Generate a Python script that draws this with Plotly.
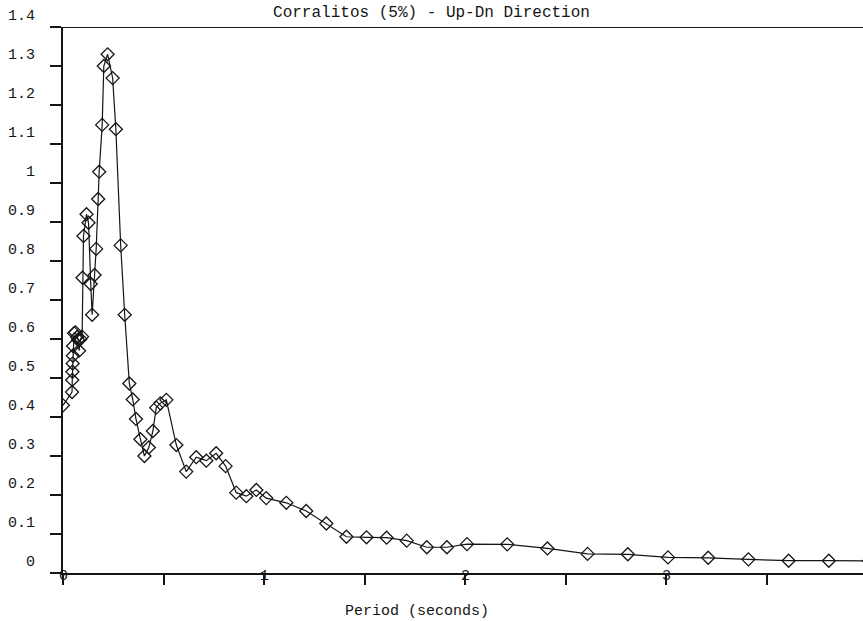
import plotly.graph_objects as go

# Period (s) and spectral acceleration values
period = [0.00, 0.045, 0.046, 0.047, 0.048, 0.049, 0.050, 0.055, 0.062, 0.070,
          0.075, 0.080, 0.087, 0.095, 0.097, 0.102, 0.117, 0.127, 0.138, 0.145,
          0.157, 0.165, 0.175, 0.180, 0.195, 0.203, 0.222, 0.247, 0.263, 0.287,
          0.307, 0.330, 0.347, 0.363, 0.385, 0.405, 0.427, 0.447, 0.464, 0.484,
          0.514, 0.564, 0.613, 0.663, 0.713, 0.762, 0.809, 0.862, 0.912, 0.962,
          1.011, 1.111, 1.21, 1.31, 1.41, 1.51, 1.61, 1.71, 1.81, 1.91,
          2.01, 2.21, 2.41, 2.61, 2.81, 3.01, 3.21, 3.41, 3.61, 3.81, 4.01]
accel = [0.430, 0.464, 0.495, 0.516, 0.537, 0.557, 0.582, 0.615, 0.617, 0.605,
         0.598, 0.570, 0.600, 0.606, 0.757, 0.864, 0.920, 0.898, 0.741, 0.662,
         0.764, 0.831, 0.959, 1.029, 1.149, 1.300, 1.330, 1.269, 1.138, 0.840,
         0.662, 0.486, 0.445, 0.395, 0.343, 0.300, 0.322, 0.364, 0.424, 0.435,
         0.444, 0.328, 0.260, 0.297, 0.288, 0.307, 0.274, 0.206, 0.197, 0.213,
         0.192, 0.180, 0.159, 0.127, 0.093, 0.0915, 0.0906, 0.083, 0.066, 0.066,
         0.074, 0.0735, 0.063, 0.049, 0.048, 0.040, 0.039, 0.035, 0.0315, 0.0315, 0.031]

y_ticks = [0, 0.1, 0.2, 0.3, 0.4, 0.5, 0.6, 0.7, 0.8, 0.9, 1.0, 1.1, 1.2, 1.3, 1.4]
y_tick_labels = ["0", "0.1", "0.2", "0.3", "0.4", "0.5", "0.6", "0.7", "0.8", "0.9",
                 "1", "1.1", "1.2", "1.3", "1.4"]
x_ticks = [0, 0.5, 1, 1.5, 2, 2.5, 3, 3.5]
x_label_vals = [0, 1, 2, 3]
x_label_text = ["0", "1", "2", "3"]

INK = "#151515"
FONT = "Liberation Mono, DejaVu Sans Mono, monospace"

fig = go.Figure()
fig.add_trace(go.Scatter(
    x=period, y=accel, mode="lines+markers",
    line=dict(color=INK, width=1.2),
    marker=dict(symbol="diamond-open", size=10, color=INK, line=dict(width=1.3, color=INK)),
    showlegend=False,
))

annotations = []
for v, t in zip(y_ticks, y_tick_labels):
    annotations.append(dict(xref="paper", yref="y", x=0, y=v, text=t, showarrow=False,
                            xanchor="right", yanchor="middle", xshift=-26, yshift=11,
                            font=dict(family=FONT, size=15, color=INK)))
for v, t in zip(x_label_vals, x_label_text):
    annotations.append(dict(xref="x", yref="paper", x=v, y=0, text=t, showarrow=False,
                            xanchor="center", yanchor="middle", yshift=-3,
                            font=dict(family=FONT, size=15, color=INK)))
annotations.append(dict(xref="paper", yref="paper", x=(417 - 63) / 800, y=0, yshift=-38,
                        text="Period (seconds)", showarrow=False, xanchor="center",
                        yanchor="middle", font=dict(family=FONT, size=15, color=INK)))

fig.update_layout(
    width=863, height=621,
    margin=dict(l=63, r=0, t=27, b=48),
    paper_bgcolor="white", plot_bgcolor="white",
    title=dict(text="Corralitos (5%) - Up-Dn Direction", x=0.5, xref="container",
               xanchor="center", y=1 - 11 / 621, yanchor="middle", yref="container",
               font=dict(family=FONT, size=16, color=INK)),
    xaxis=dict(range=[0, 800 / 201], tickvals=x_ticks, showticklabels=False,
               ticks="outside", ticklen=10, tickwidth=1.5, tickcolor=INK,
               showline=True, linecolor=INK, linewidth=2, showgrid=False, zeroline=False),
    yaxis=dict(range=[0, 1.4], tickvals=y_ticks, showticklabels=False,
               ticks="outside", ticklen=11, tickwidth=1.5, tickcolor=INK,
               showline=True, linecolor=INK, linewidth=2, showgrid=False, zeroline=False),
    shapes=[dict(type="line", xref="paper", yref="y", x0=0, x1=1, y0=1.4, y1=1.4,
                 line=dict(color=INK, width=2))],
    annotations=annotations,
)

fig.write_html("out.html")
